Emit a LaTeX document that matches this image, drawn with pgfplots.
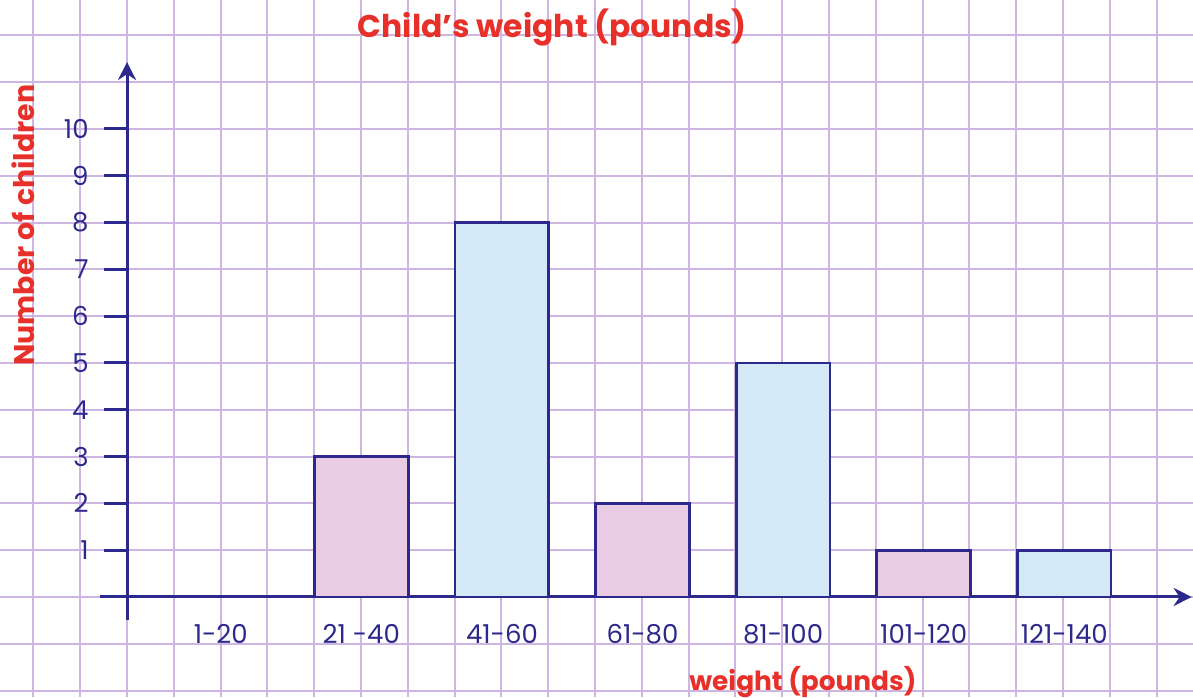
\documentclass[border=0pt]{standalone}
\usepackage{fontspec}
\setmainfont{Poppins}
\usepackage{pgfplots}
\usepackage{pgfplotstable}
\pgfplotsset{compat=1.18}
\usetikzlibrary{arrows.meta}
\definecolor{gridc}{RGB}{206,182,226}
\definecolor{navy}{RGB}{45,40,140}
\definecolor{pinkf}{RGB}{233,204,227}
\definecolor{bluef}{RGB}{211,234,246}
\definecolor{redt}{RGB}{232,48,42}

\pgfplotstableread{
x y
5 3
11 2
17 1
}\pinkdata
\pgfplotstableread{
x y
8 8
14 5
20 1
}\bluedata

\begin{document}
\begin{tikzpicture}
\begin{axis}[name=bg, scale only axis, width=596.5pt, height=348.5pt,
 xmin=-2.714, xmax=22.778, ymin=-2.137, ymax=12.756,
 xtick={-2,...,22}, ytick={-2,...,12}, xticklabel={}, yticklabel={},
 major tick length=0pt, grid=major, grid style={gridc, line width=1pt},
 axis line style={draw=none}, clip=false]
\node[anchor=base, font=\bfseries\fontsize{15.7}{18}\selectfont, text=redt] at (rel axis cs:0.463,0.946) {Child's weight (pounds)};
\node[anchor=base, rotate=90, font=\bfseries\fontsize{14.2}{16}\selectfont, text=redt] at (rel axis cs:0.0285,0.677) {Number of children};
\node[anchor=base, font=\bfseries\fontsize{13.2}{15}\selectfont, text=redt] at (rel axis cs:0.673,0.010) {weight (pounds)};
\coordinate (C) at (axis cs:-0.58,-0.5);
\end{axis}
\begin{axis}[at={(C)}, anchor=south west, scale only axis, width=545.9pt, height=279.2pt,
 xmin=-0.58, xmax=22.72, ymin=-0.5, ymax=11.43,
 axis lines=middle, axis line style={navy, line width=1.5pt},
 x axis line style={-{Stealth[length=9pt,width=9pt]}},
 y axis line style={-{Stealth[length=9pt,width=9pt]}},
 xtick={2,5,8,11,14,17,20}, xticklabels={1-20,21 -40,41-60,61-80,81-100,101-120,121-140},
 ytick={1,...,10}, yticklabels={1,2,3,4,5,6,7,8,9,10},
 tick align=outside, xtick style={draw=none}, ytick style={navy, line width=1.5pt},
 major tick length=11.7pt,
 tick label style={text=navy, font=\fontsize{13}{15}\selectfont},
 xticklabel style={yshift=1.5pt},
 yticklabel style={xshift=-4pt},
 clip=false]
\addplot[ybar, bar width=2, bar shift=0pt, draw=navy, fill=pinkf, line width=1.4pt] table {\pinkdata};
\addplot[ybar, bar width=2, bar shift=0pt, draw=navy, fill=bluef, line width=1.4pt] table {\bluedata};
\end{axis}
\pgfresetboundingbox
\path (bg.south west) rectangle (bg.north east);
\end{tikzpicture}
\end{document}
